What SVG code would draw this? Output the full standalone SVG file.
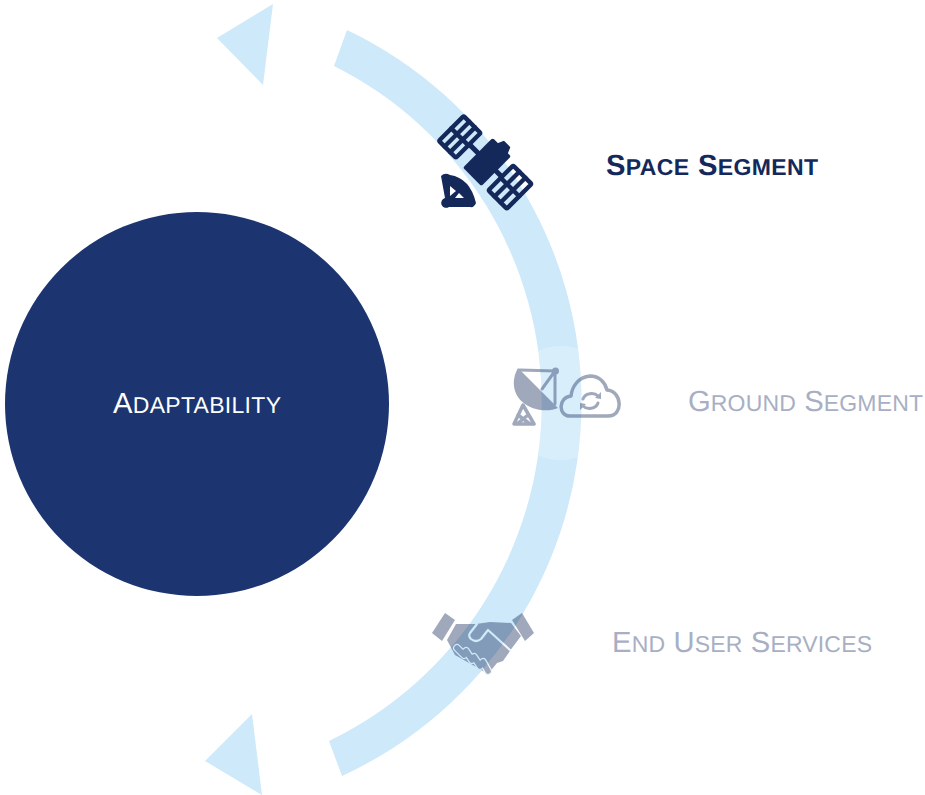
<svg xmlns="http://www.w3.org/2000/svg" width="925" height="795" viewBox="0 0 925 795">
<style>
.lbl{font-family:"Liberation Sans",Arial,sans-serif;font-variant:small-caps;font-size:29.200px;text-rendering:geometricPrecision}
.sm{font-size:33.300px}
.dim{fill:#a8afc4}
.ln{fill:none;stroke:#14295a;stroke-linecap:round;stroke-linejoin:round}
.nv{fill:#14295a}
.kn{fill:none;stroke:#d6ecfa;stroke-linecap:round;stroke-linejoin:round}
</style>
<defs><clipPath id="band"><path d="M347 30A412 412 0 0 1 342 776L329 741A376 376 0 0 0 334 66Z"/></clipPath></defs>
<rect width="925" height="795" fill="#ffffff"/>
<g id="connectors">
<path d="M347 30A412 412 0 0 1 342 776L329 741A376 376 0 0 0 334 66Z" fill="#cde9fa"/>
<polygon points="273,4 217,38 263,85" fill="#cde9fa"/>
<polygon points="252,714 205,761 262,795" fill="#cde9fa"/>
</g>
<g id="adaptability">
<circle cx="197" cy="404" r="192" fill="#1c3570"/>
<text class="lbl" x="113" y="413" textLength="168" fill="#ffffff">A<tspan class="sm">daptability</tspan></text>
</g>
<g id="space-segment">
<g transform="translate(487 162) rotate(45)">
<rect x="-13" y="-21" width="26" height="42" rx="2" class="nv"/>
<polygon points="-6,-20 -3,-27 6,-27 9,-20" class="nv"/>
<rect x="-26" y="-2.500" width="14" height="5" class="nv"/>
<rect x="12" y="-2.500" width="9" height="5" class="nv"/>
<g class="ln" stroke-width="4.400">
<rect x="-49" y="-16" width="24" height="35" rx="1.500"/>
<path d="M-41 -16V19M-33 -16V19M-49 1.500H-25"/>
<rect x="21" y="-16" width="26" height="35" rx="1.500"/>
<path d="M29.700 -16V19M38.300 -16V19M21 1.500H47"/>
</g>
</g>
<path class="nv" fill-rule="evenodd" d="M441 176Q445 172 450 175Q470 178 476 203Q474 208 470 207L449 207A5 5 0 1 1 445 198ZM450 186V196L456 191ZM455 198H464L459 193Z"/>
<text class="lbl" x="606" y="175" textLength="212" font-weight="700" fill="#14295a">S<tspan class="sm">pace</tspan> S<tspan class="sm">egment</tspan></text>
</g>
<g id="ground-segment">
<circle cx="561" cy="403" r="57" fill="#ffffff" opacity=".25" clip-path="url(#band)"/>
<g opacity=".4">
<path class="nv" d="M518 368C510 382 514 397 525 404C535 411 549 412 558 408Z"/>
<path class="ln" stroke-width="3" d="M520 370L555 371L542 389M555 371V404"/>
<circle class="nv" cx="555.500" cy="371" r="3.500"/>
<path class="ln" stroke-width="3.500" d="M514 424L523 405L534 424ZM518 415L530 424M528 415L517 424"/>
<path class="ln" stroke-width="3.500" d="M570 416C558 416 558 397 571 396C572 387 578 377 590 376C599 376 605 382 607 390C622 391 624 416 608 416Z"/>
<path class="ln" stroke-width="3" d="M583 399C585 393 594 392 598 396M598 403C596 409 587 410 583 406"/>
<path class="nv" d="M595 398L601 392L601 399ZM586 404L580 410L580 403Z"/>
</g>
<text class="lbl dim" x="688" y="411" textLength="235">G<tspan class="sm">round</tspan> S<tspan class="sm">egment</tspan></text>
</g>
<g id="end-user-services">
<g opacity=".4">
<polygon class="nv" points="445,613 455,620 442,641 432,633"/>
<polygon class="nv" points="522,613 512,620 525,641 534,633"/>
<path class="nv" d="M456 624L476 624L490 622L511 623L521 636L512 648L503 661L497 663L488 674L478 668L455 655L447 640Z"/>
<path class="kn" stroke-width="2.200" d="M510 650L488 630L481 639Q476 643 471 639Q468 636 470 633L477 624"/>
<path class="kn" stroke-width="8" d="M457 648L464 655M466 651L472 660M474 657L480 666M483 662L488 671"/>
<path class="ln" stroke-width="5.500" d="M457 648L464 655M466 651L472 660M474 657L480 666M483 662L488 671"/>
</g>
<text class="lbl dim" x="612" y="652" textLength="260">E<tspan class="sm">nd</tspan> U<tspan class="sm">ser</tspan> S<tspan class="sm">ervices</tspan></text>
</g>
</svg>
